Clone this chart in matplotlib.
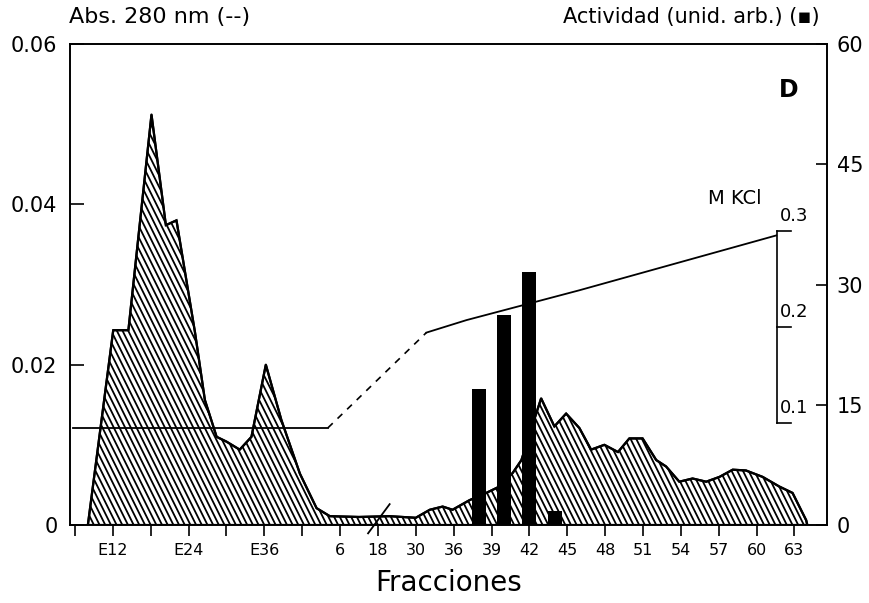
import numpy as np
import matplotlib as mpl
import matplotlib.pyplot as plt
from matplotlib.patches import Polygon
from matplotlib.collections import LineCollection

# x is in "tick position" units (one unit per labelled tick on the fraction axis)
tick_labels = ['', 'E12', '', 'E24', '', 'E36', '', '6', '18', '30',
               '36', '39', '42', '45', '48', '51', '54', '57', '60', '63']

# Abs. 280 nm profile
abs_x = [0.34, 1.01, 1.41, 2.02, 2.40, 2.68, 3.17, 3.43, 3.74, 4.00, 4.35, 4.66,
         5.04, 5.45, 5.94, 6.38, 6.73, 7.50, 8.30, 9.00, 9.37, 9.71, 9.97, 10.42,
         10.86, 11.21, 11.56, 11.79, 12.05, 12.31, 12.66, 12.97, 13.32, 13.63,
         13.98, 14.34, 14.64, 14.99, 15.35, 15.61, 15.96, 16.31, 16.67, 17.02,
         17.37, 17.72, 18.16, 18.60, 18.95, 19.31, 19.34]
abs_y = [0.0, 0.0243, 0.0243, 0.0512, 0.0374, 0.0380, 0.0240, 0.0156, 0.0110,
         0.0104, 0.0094, 0.0110, 0.0200, 0.0131, 0.0064, 0.0021, 0.0011, 0.0010,
         0.0011, 0.0009, 0.0019, 0.0023, 0.0019, 0.0031, 0.0040, 0.0048, 0.0065,
         0.0081, 0.0120, 0.0158, 0.0123, 0.0139, 0.0121, 0.0094, 0.0100, 0.0091,
         0.0108, 0.0108, 0.0081, 0.0073, 0.0054, 0.0058, 0.0054, 0.0060, 0.0069,
         0.0068, 0.0060, 0.0048, 0.0040, 0.0006, 0.0]

# activity bars (fraction number, arbitrary units)
act_frac = [38, 40, 42, 44]
act_val = [17.0, 26.2, 31.5, 1.7]
# fraction -> tick position for the gradient part of the axis
frac_ticks = [30, 36, 39, 42, 45, 48, 51, 54, 57, 60, 63]
frac_pos = [9, 10, 11, 12, 13, 14, 15, 16, 17, 18, 19]

# KCl gradient (M)
kcl_flat_x = [-0.05, 6.68]
kcl_flat_y = [0.095, 0.095]
kcl_dash_x = [6.68, 9.28]
kcl_dash_y = [0.095, 0.194]
kcl_grad_x = [9.28, 10.34, 13.32, 18.52]
kcl_grad_y = [0.194, 0.207, 0.238, 0.295]

plt.rc('font', family='DejaVu Sans')
mpl.rcParams['axes.linewidth'] = 1.2

fig = plt.figure(figsize=(8.69, 6.03), dpi=100)
ax = fig.add_axes([70 / 869, 1 - 525 / 603, 757 / 869, 481 / 603])
xlim = (-0.132, 19.86)

# hatched absorbance area (steep "\" stripes clipped to the profile)
poly = Polygon(np.column_stack([abs_x, abs_y]), closed=True, facecolor='white',
               edgecolor='black', linewidth=1.6, zorder=2)
ax.add_patch(poly)
offsets = np.arange(-1, 26, 0.15)
segs = [[(c, 0), (c - 6.3, 0.06)] for c in offsets]
lc = LineCollection(segs, colors='black', linewidths=1.3, zorder=2)
ax.add_collection(lc)
lc.set_clip_path(poly)
ax.plot(abs_x, abs_y, color='black', lw=1.6, zorder=3)

ax.set_xlim(xlim)
ax.set_ylim(0, 0.06)
ax.set_yticks([0, 0.02, 0.04, 0.06])
ax.set_yticklabels(['0', '0.02', '0.04', '0.06'])
ax.tick_params(axis='y', direction='in', length=10, width=1.2, labelsize=15, pad=9)
ax.set_xticks(range(len(tick_labels)))
ax.set_xticklabels(tick_labels)
ax.tick_params(axis='x', direction='out', length=8, width=1.2, labelsize=11.5, pad=5)
ax.set_xlabel('Fracciones', fontsize=20, labelpad=8)

# axis break mark
ax.plot([7.74, 8.31], [-0.00104, 0.0026], color='black', lw=1.3, clip_on=False, zorder=5)

# activity bars
ax2 = ax.twinx()
bar_pos = np.interp(act_frac, frac_ticks, frac_pos)
ax2.bar(bar_pos, act_val, width=0.37, color='black', zorder=4)
ax2.set_ylim(0, 60)
ax2.set_yticks([0, 15, 30, 45, 60])
ax2.tick_params(axis='y', direction='in', length=8, width=1.2, labelsize=15, pad=7)
ax2.set_xlim(xlim)

# KCl gradient on its own scale
ax3 = ax.twinx()
ax3.set_ylim(-0.006, 0.494)
ax3.set_xlim(xlim)
ax3.axis('off')
ax3.plot(kcl_flat_x, kcl_flat_y, color='black', lw=1.3)
ax3.plot(kcl_dash_x, kcl_dash_y, color='black', lw=1.2, dashes=(4, 4))
ax3.plot(kcl_grad_x, kcl_grad_y, color='black', lw=1.3)
bx = 18.54
ax3.plot([bx, bx], [0.1, 0.3], color='black', lw=1.2)
for v in [0.1, 0.2, 0.3]:
    ax3.plot([bx, bx + 0.38], [v, v], color='black', lw=1.2)
    ax3.text(bx + 0.08, v + 0.006, f'{v:.1f}', fontsize=13, ha='left', va='bottom')
ax3.text(17.43, 0.3336, 'M KCl', fontsize=14, ha='center', va='center')

ax.text(0.95, 0.905, 'D', transform=ax.transAxes, fontsize=17,
        fontweight='bold', ha='center', va='center')

fig.text(69 / 869, 1 - 17 / 603, 'Abs. 280 nm (--)', fontsize=16, ha='left', va='center')
fig.text(820 / 869, 1 - 17 / 603, 'Actividad (unid. arb.) (\u25aa)', fontsize=15,
         ha='right', va='center')

fig.savefig('out.png', dpi=100)
